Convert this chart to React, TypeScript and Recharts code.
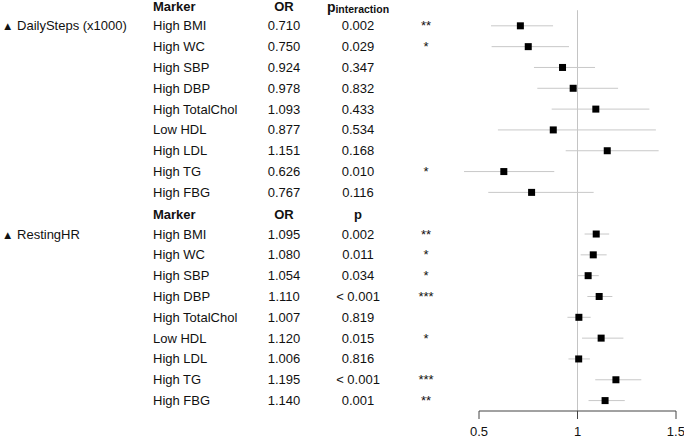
import React from "react";
import {
  ComposedChart,
  Scatter,
  ErrorBar,
  XAxis,
  YAxis,
  ReferenceLine,
} from "recharts";

const markers = [
  "High BMI",
  "High WC",
  "High SBP",
  "High DBP",
  "High TotalChol",
  "Low HDL",
  "High LDL",
  "High TG",
  "High FBG",
];

// DailySteps (x1000)
const stepsOR = [0.71, 0.75, 0.924, 0.978, 1.093, 0.877, 1.151, 0.626, 0.767];
const stepsLo = [0.561, 0.564, 0.779, 0.796, 0.869, 0.596, 0.94, 0.424, 0.547];
const stepsHi = [0.876, 0.957, 1.089, 1.206, 1.365, 1.398, 1.412, 0.882, 1.082];
const stepsP = ["0.002", "0.029", "0.347", "0.832", "0.433", "0.534", "0.168", "0.010", "0.116"];
const stepsSig = ["**", "*", "", "", "", "", "", "*", ""];

// RestingHR
const hrOR = [1.095, 1.08, 1.054, 1.11, 1.007, 1.12, 1.006, 1.195, 1.14];
const hrLo = [1.036, 1.016, 0.999, 1.05, 0.949, 1.023, 0.954, 1.09, 1.056];
const hrHi = [1.161, 1.148, 1.108, 1.177, 1.067, 1.233, 1.063, 1.324, 1.24];
const hrP = ["0.002", "0.011", "0.034", "< 0.001", "0.819", "0.015", "0.816", "< 0.001", "0.001"];
const hrSig = ["**", "*", "*", "***", "", "*", "", "***", "**"];

const xTicks = [0.5, 1, 1.5];

type Row =
  | { row: number; kind: "header"; pSub: boolean }
  | {
      row: number;
      kind: "data";
      group: string;
      marker: string;
      or: number;
      err: [number, number];
      p: string;
      sig: string;
    };

function buildGroup(
  start: number,
  group: string,
  or: number[],
  lo: number[],
  hi: number[],
  p: string[],
  sig: string[],
  pSub: boolean
): Row[] {
  const out: Row[] = [{ row: start, kind: "header", pSub }];
  markers.forEach((m, i) => {
    out.push({
      row: start + 1 + i,
      kind: "data",
      group: i === 0 ? group : "",
      marker: m,
      or: or[i],
      err: [or[i] - lo[i], hi[i] - or[i]],
      p: p[i],
      sig: sig[i],
    });
  });
  return out;
}

const rows: Row[] = [
  ...buildGroup(0, "DailySteps (x1000)", stepsOR, stepsLo, stepsHi, stepsP, stepsSig, true),
  ...buildGroup(10, "RestingHR", hrOR, hrLo, hrHi, hrP, hrSig, false),
];
const points = rows.filter((r) => r.kind === "data");

const FONT = "'Liberation Sans', Arial, sans-serif";
const COL = { group: 2, marker: 153, or: 284, p: 358, sig: 426 };

function RowTick(props: any) {
  const { y, payload } = props;
  const r = rows.find((d) => d.row === payload.value);
  if (!r) return null;
  const common = { fontFamily: FONT, fontSize: 13, fill: "#111", dy: "0.35em" };
  if (r.kind === "header") {
    const hy = y + 1.5;
    return (
      <g>
        <text x={COL.marker} y={hy} {...common} fontWeight="bold">
          Marker
        </text>
        <text x={COL.or} y={hy} {...common} fontWeight="bold" textAnchor="middle">
          OR
        </text>
        {r.pSub ? (
          <text x={COL.p} y={hy + 0.5} {...common} fontWeight="bold" textAnchor="middle">
            <tspan fontSize={14}>p</tspan>
            <tspan fontSize={10.5} dy="1.5">
              interaction
            </tspan>
          </text>
        ) : (
          <text x={COL.p} y={hy} {...common} fontWeight="bold" textAnchor="middle">
            p
          </text>
        )}
      </g>
    );
  }
  return (
    <g>
      {r.group && (
        <text x={COL.group} y={y} {...common}>
          <tspan fontSize={11.5}>▲</tspan> {r.group}
        </text>
      )}
      <text x={COL.marker} y={y} {...common}>
        {r.marker}
      </text>
      <text x={COL.or} y={y} {...common} textAnchor="middle">
        {r.or.toFixed(3)}
      </text>
      <text x={COL.p} y={y} {...common} textAnchor="middle">
        {r.p}
      </text>
      {r.sig && (
        <text x={COL.sig} y={y} {...common} textAnchor="middle">
          {r.sig}
        </text>
      )}
    </g>
  );
}

const Square = (props: any) => {
  const { cx, cy } = props;
  return <rect x={cx - 3.5} y={cy - 3.5} width={7} height={7} fill="#000" />;
};

export default function App() {
  return (
    <div style={{ position: "absolute", left: 0, top: 0, background: "#fff" }}>
      <ComposedChart
        width={684}
        height={440}
        data={points}
        margin={{ top: 5, right: 8, bottom: 0, left: 0 }}
      >
        <XAxis
          type="number"
          dataKey="or"
          domain={[0.5, 1.5]}
          ticks={xTicks}
          allowDataOverflow
          height={29}
          tickSize={8}
          tickMargin={8}
          stroke="#444"
          tick={{ fill: "#111", fontSize: 13, fontFamily: FONT }}
          tickFormatter={(v: number) => String(v)}
        />
        <YAxis
          type="number"
          dataKey="row"
          domain={[0, 19.5]}
          reversed
          width={479}
          ticks={rows.map((r) => r.row)}
          interval={0}
          axisLine={false}
          tickLine={false}
          tick={<RowTick />}
        />
        <ReferenceLine
          segment={[
            { x: 1, y: 0.25 },
            { x: 1, y: 19.5 },
          ]}
          stroke="#c4c4c4"
          strokeWidth={1}
        />
        <Scatter dataKey="or" shape={<Square />} isAnimationActive={false}>
          <ErrorBar dataKey="err" direction="x" width={0} stroke="#c8c8c8" strokeWidth={1} />
        </Scatter>
      </ComposedChart>
    </div>
  );
}
